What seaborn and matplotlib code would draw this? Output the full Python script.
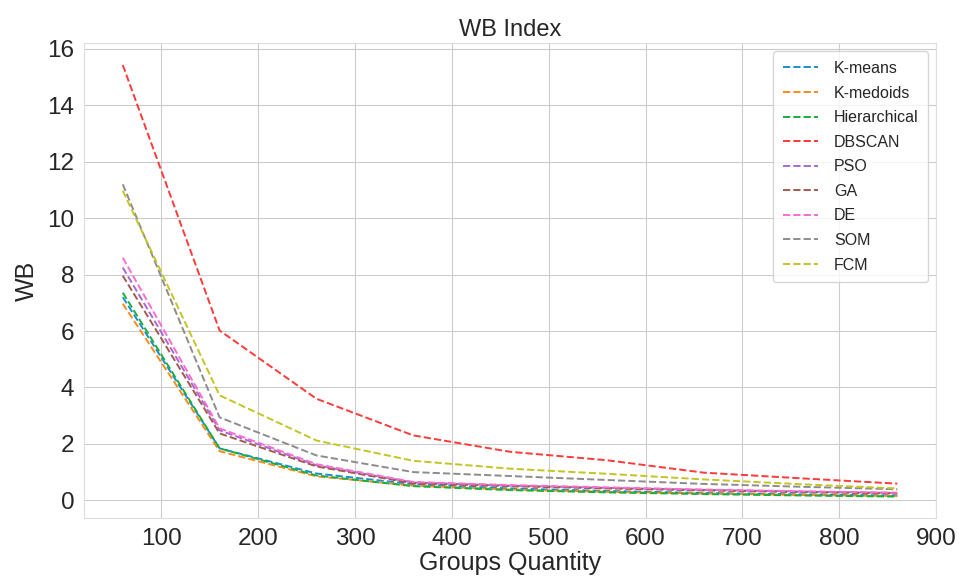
import matplotlib
matplotlib.use("Agg")
import matplotlib.pyplot as plt
import seaborn as sns
import pandas as pd

groups = [60, 160, 260, 360, 460, 560, 660, 760, 860]

kmeans       = [7.20, 1.84, 0.95, 0.57, 0.42, 0.33, 0.26, 0.21, 0.17]
kmedoids     = [6.97, 1.74, 0.85, 0.52, 0.38, 0.30, 0.24, 0.19, 0.15]
hierarchical = [7.36, 1.84, 0.88, 0.50, 0.36, 0.28, 0.22, 0.17, 0.13]
dbscan       = [15.43, 6.02, 3.60, 2.30, 1.72, 1.42, 0.98, 0.78, 0.59]
pso          = [8.25, 2.48, 1.24, 0.63, 0.52, 0.44, 0.37, 0.31, 0.26]
ga           = [7.96, 2.37, 1.20, 0.60, 0.50, 0.42, 0.35, 0.29, 0.24]
de           = [8.60, 2.55, 1.28, 0.65, 0.54, 0.46, 0.38, 0.32, 0.27]
som          = [11.20, 2.94, 1.59, 1.00, 0.86, 0.72, 0.58, 0.48, 0.39]
fcm          = [10.97, 3.72, 2.12, 1.40, 1.12, 0.94, 0.74, 0.57, 0.42]

methods = ["K-means", "K-medoids", "Hierarchical", "DBSCAN", "PSO", "GA", "DE", "SOM", "FCM"]
series = [kmeans, kmedoids, hierarchical, dbscan, pso, ga, de, som, fcm]

rows = []
for m, vals in zip(methods, series):
    for g, v in zip(groups, vals):
        rows.append({"Groups Quantity": g, "WB": v, "Method": m})
df = pd.DataFrame(rows)

sns.set_style("whitegrid")
plt.rcParams['font.family'] = ['Liberation Sans', 'DejaVu Sans']

colors = ["#1a8fd0", "#ff8a1a", "#1aae3c", "#ff3a3a", "#a36ad8",
          "#a35a4e", "#ff6ccc", "#8c8c8c", "#c4c424"]

fig, ax = plt.subplots(figsize=(9.66, 5.79), dpi=100)
sns.lineplot(data=df, x="Groups Quantity", y="WB", hue="Method", hue_order=methods,
             palette=colors, ax=ax, linewidth=1.4)
for line in ax.lines:
    line.set_linestyle("--")

ax.set_title("WB Index", fontsize=17, pad=5)
ax.set_xlabel("Groups Quantity", fontsize=18, labelpad=1)
ax.set_ylabel("WB", fontsize=18, labelpad=6)
ax.tick_params(axis="both", labelsize=17.5)
ax.set_xticks([100, 200, 300, 400, 500, 600, 700, 800, 900])
ax.set_yticks([0, 2, 4, 6, 8, 10, 12, 14, 16])
for s in ax.spines.values():
    s.set_color("#dddddd")
leg = ax.legend(loc="upper right", fontsize=11.5, labelspacing=0.6, handlelength=2.2,
                handletextpad=1.0, borderpad=0.6, frameon=True)
for h in leg.get_lines():
    h.set_linestyle("--")
fig.subplots_adjust(left=0.087, right=0.969, top=0.925, bottom=0.105)
fig.savefig("out.png", dpi=100)
